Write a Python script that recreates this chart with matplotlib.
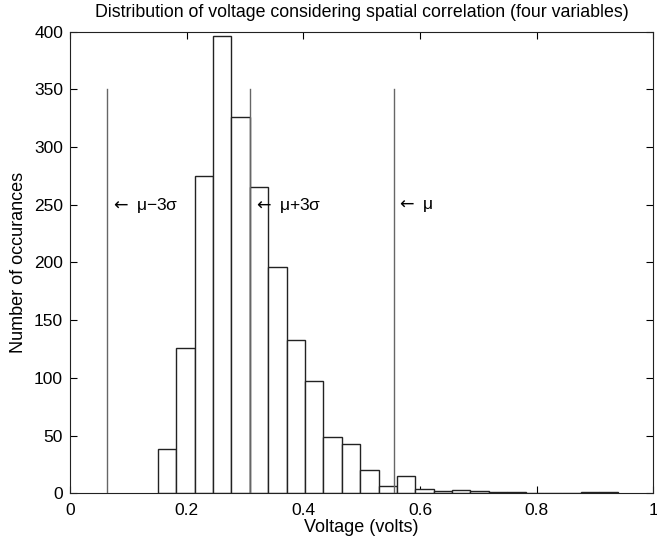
import matplotlib
matplotlib.use("Agg")
import matplotlib.pyplot as plt
import numpy as np

# histogram counts (25 equal bins)
counts = [38, 126, 275, 396, 326, 265, 196, 133, 97, 49, 43, 20, 6,
          15, 4, 2, 3, 2, 1, 1, 0, 0, 0, 1, 1]
bin_lo = 0.1507
bin_hi = 0.9386

# marker lines and their labels
marker_x = [0.063, 0.309, 0.5546]
marker_labels = ["$\\leftarrow$ μ−3σ", "$\\leftarrow$ μ+3σ", "$\\leftarrow$ μ"]
marker_top = 350
label_y = 249

xticks = [0, 0.2, 0.4, 0.6, 0.8, 1]
xticklabels = ["0", "0.2", "0.4", "0.6", "0.8", "1"]
yticks = list(range(0, 401, 50))

plt.rcParams['font.family'] = ['Liberation Sans', 'DejaVu Sans']
plt.rcParams['font.size'] = 12.5

fig = plt.figure(figsize=(6.57, 5.43), dpi=100)
ax = fig.add_axes([0.1065, 0.0917, 0.888, 0.85])

edges = np.linspace(bin_lo, bin_hi, len(counts) + 1)
ax.bar(edges[:-1], counts, width=np.diff(edges), align='edge',
       facecolor='white', edgecolor='#222222', linewidth=1.0, zorder=2)

for x, lab in zip(marker_x, marker_labels):
    ax.plot([x, x], [0, marker_top], color='#666666', linewidth=1.0, zorder=3)
    ax.text(x + 0.005, label_y, lab, ha='left', va='center', fontsize=12.5)

ax.set_xlim(0, 1)
ax.set_ylim(0, 400)
ax.set_xticks(xticks)
ax.set_xticklabels(xticklabels)
ax.set_yticks(yticks)
ax.tick_params(direction='in', top=True, right=True, length=5, width=0.8)
ax.tick_params(axis='x', pad=7)
ax.tick_params(axis='y', pad=5)
for s in ax.spines.values():
    s.set_linewidth(0.8)
    s.set_color('#222222')

ax.set_title("Distribution of voltage considering spatial correlation (four variables)",
             fontsize=12.8, pad=10.5)
ax.set_xlabel("Voltage (volts)", fontsize=13, labelpad=1)
ax.set_ylabel("Number of occurances", fontsize=13, labelpad=5)

fig.savefig("out.png", dpi=100)
